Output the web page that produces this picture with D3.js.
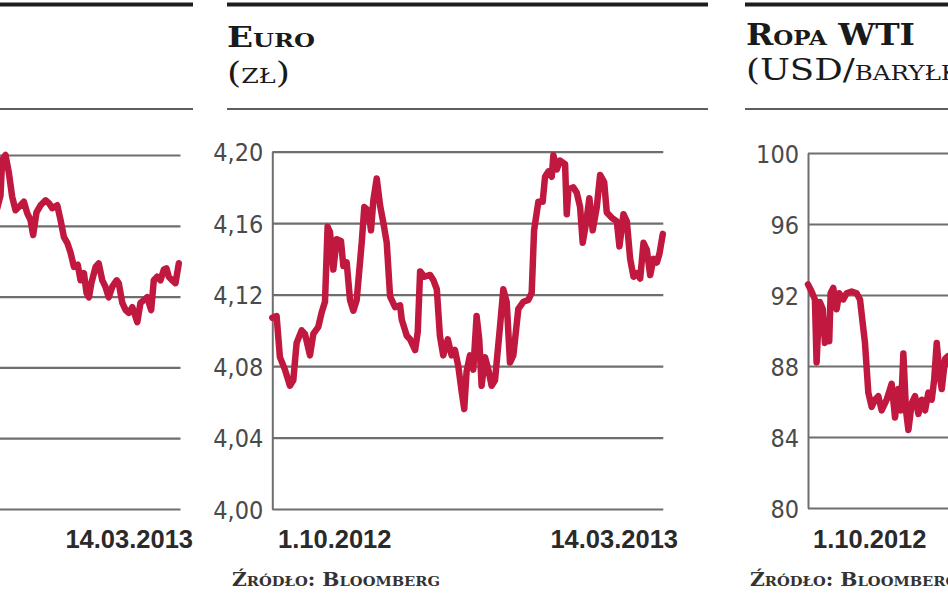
<!DOCTYPE html>
<html>
<head>
<meta charset="utf-8">
<script src="https://cdn.jsdelivr.net/npm/d3@7"></script>
<style>
  html, body { margin: 0; padding: 0; background: #fff; }
  svg { display: block; }
</style>
</head>
<body>
<svg id="chart" width="948" height="593"></svg>
<script>
// ---------------- DATA ----------------
// x = days since 1.10.2012 (period 1.10.2012 – 14.03.2013 = 164 days)
const periodDays = 164;
const dateLabels = ["1.10.2012", "14.03.2013"];

// Left (cropped) panel – only its right part is visible
const leftTicks = [2200, 2300, 2400, 2500, 2600, 2700];
const leftDays = [86, 88.5, 89.2, 90.6, 92.0, 93.4, 94.8, 96.9, 98.3, 99.7, 101.1, 102.2, 103.6, 105.3, 107.4, 108.8, 110.2, 112.3, 113.7, 115.1, 116.5, 117.9, 119.3, 120.9, 122.1, 123.5, 124.6, 125.6, 126.6, 128.4, 129.7, 131.2, 132.5, 133.9, 135.4, 137.2, 138.1, 139.6, 141.0, 142.3, 143.8, 145.2, 145.9, 147.2, 148.6, 150.0, 151.7, 152.8, 154.2, 155.6, 157.0, 158.1, 159.1, 160.5, 161.9, 163.3];
const leftValues = [2610, 2643, 2693, 2700, 2675, 2641, 2622, 2629, 2634, 2618, 2608, 2587, 2619, 2629, 2636, 2632, 2625, 2629, 2608, 2584, 2576, 2562, 2542, 2545, 2523, 2533, 2505, 2499, 2519, 2542, 2547, 2523, 2514, 2499, 2514, 2523, 2519, 2491, 2481, 2477, 2485, 2471, 2464, 2491, 2495, 2499, 2481, 2523, 2528, 2523, 2538, 2540, 2528, 2523, 2519, 2547];

// Euro (zł)
const euroTicks = [4.00, 4.04, 4.08, 4.12, 4.16, 4.20];
const euroDays = [0, 1.8, 3.2, 5.3, 7.4, 8.8, 10.2, 12.3, 13.7, 15.8, 17.2, 19.3, 20.7, 22.1, 23.2, 24.2, 25.6, 27.0, 28.8, 29.8, 31.2, 32.6, 34.0, 35.4, 37.5, 38.6, 40.3, 41.4, 42.4, 43.8, 45.2, 46.6, 48.0, 49.4, 51.5, 53.6, 54.3, 56.4, 57.8, 59.9, 61.0, 62.0, 63.8, 66.2, 67.6, 69.0, 70.3, 71.7, 73.6, 75.2, 76.6, 78.0, 79.4, 80.5,
  81.5, 82.9, 84.3, 85.7, 86.8, 87.8, 89.2, 90.6, 92.0, 93.4, 95.5, 96.9, 98.3, 99.7, 101.1, 103.2, 105.3, 107.4, 108.8, 109.8, 111.6, 113.4, 114.4, 115.8, 117.2, 117.9, 119.3, 120.7, 122.8, 123.5, 124.2, 126.3, 127.7, 129.1, 130.2, 131.6, 133.0, 134.4, 136.1, 137.5, 139.2, 140.3, 142.4, 144.5, 145.6, 147.3, 148.7, 150.1, 151.5, 152.9, 154.3, 155.7, 157.1, 158.5, 159.9, 161.3, 162.4, 163.8];
const euroValues = [4.107, 4.108, 4.085, 4.078, 4.069, 4.072, 4.093, 4.100, 4.098, 4.086, 4.098, 4.102, 4.110, 4.116, 4.158, 4.155, 4.134, 4.151, 4.150, 4.136, 4.138, 4.117, 4.111, 4.117, 4.149, 4.169, 4.167, 4.156, 4.173, 4.185, 4.170, 4.160, 4.149, 4.119, 4.113, 4.114, 4.106, 4.097, 4.095, 4.089, 4.099, 4.133, 4.130, 4.131, 4.128, 4.123, 4.097, 4.086, 4.095, 4.086, 4.089, 4.080, 4.066, 4.056,
  4.077, 4.086, 4.078, 4.108, 4.095, 4.069, 4.085, 4.078, 4.069, 4.072, 4.102, 4.123, 4.116, 4.082, 4.086, 4.112, 4.116, 4.117, 4.121, 4.156, 4.172, 4.172, 4.186, 4.189, 4.186, 4.198, 4.190, 4.195, 4.193, 4.165, 4.179, 4.180, 4.177, 4.169, 4.149, 4.160, 4.174, 4.156, 4.169, 4.187, 4.183, 4.166, 4.163, 4.161, 4.147, 4.165, 4.161, 4.140, 4.130, 4.132, 4.129, 4.149, 4.145, 4.131, 4.140, 4.138, 4.143, 4.154];

// Ropa WTI (USD/baryłkę)
const wtiTicks = [80, 84, 88, 92, 96, 100];
const wtiDays = [0, 1.5, 2.9, 3.6, 4.3, 5.0, 6.2, 7.1, 8.1, 8.9, 9.5, 10.6, 12.0, 13.1, 14.8, 16.2, 18.3, 20.4, 21.8, 23.9, 25.3, 26.7, 28.1, 29.5, 30.9, 33.0, 35.1, 36.5, 37.9, 39.0, 40.0, 41.1, 42.1, 43.5, 44.9, 46.3, 47.7, 49.1, 50.5, 51.9, 52.9, 54.0, 55.1, 56.1, 57.5, 58.7, 60.0];
const wtiValues = [92.6, 92.2, 91.75, 88.2, 90.2, 91.6, 91.2, 89.3, 90.4, 89.4, 92.1, 92.4, 91.2, 92.1, 91.75, 92.1, 92.2, 92.1, 91.75, 89.3, 86.5, 85.7, 86.1, 86.3, 85.5, 86.1, 87.0, 85.1, 86.7, 85.5, 88.7, 85.5, 84.4, 85.9, 86.3, 85.3, 86.1, 85.5, 86.5, 86.1, 87.2, 89.3, 87.6, 86.7, 88.4, 88.55, 88.0];

// ---------------- LAYOUT ----------------
const svg = d3.select("#chart");
const RED = "#c0183f";
const GRID = "#6e6e6e";
const plotW = 391;

const panels = [
  { axisX: -210.5, top: 155, bottom: 509, ruleX0: -300, ruleX1: 193, ticks: leftTicks, fmt: d3.format("d"), showTickLabels: false,
    days: leftDays, values: leftValues, labelStart: null, labelEnd: 193, source: null, title: null },
  { axisX: 272.3, top: 151.7, bottom: 509, ruleX0: 227, ruleX1: 708, ticks: euroTicks, showTickLabels: true,
    fmt: v => d3.format(".2f")(v).replace(".", ","),
    days: euroDays, values: euroValues, labelStart: 278, labelEnd: 678, source: 232,
    title: { x: 227, t1: "Euro", w1: 88, s1: 27, b1: 47, t2: "(zł)", w2: 63, s2: 29, b2: 83 } },
  { axisX: 808, top: 153, bottom: 508, ruleX0: 745, ruleX1: 960, ticks: wtiTicks, fmt: d3.format("d"), showTickLabels: true,
    days: wtiDays, values: wtiValues, labelStart: 813, labelEnd: null, source: 750,
    title: { x: 746, t1: "Ropa WTI", w1: 169, s1: 30, b1: 45, t2: "(USD/baryłkę)", w2: 245, s2: 29, b2: 80 } }
];

panels.forEach(p => {
  const g = svg.append("g");
  const x = d3.scaleLinear().domain([0, periodDays]).range([p.axisX, p.axisX + plotW]);
  const y = d3.scaleLinear().domain([d3.min(p.ticks), d3.max(p.ticks)]).range([p.bottom, p.top]);

  // top thick rule and thin separator
  g.append("line").attr("x1", p.ruleX0).attr("x2", p.ruleX1).attr("y1", 4.5).attr("y2", 4.5)
    .attr("stroke", "#1e1e1e").attr("stroke-width", 4);
  g.append("line").attr("x1", p.ruleX0).attr("x2", p.ruleX1).attr("y1", 109).attr("y2", 109)
    .attr("stroke", "#5e5e5e").attr("stroke-width", 2);

  // titles
  if (p.title) {
    const t = p.title;
    g.append("text").attr("x", t.x).attr("y", t.b1)
      .attr("font-family", "DejaVu Serif").attr("font-weight", "bold")
      .attr("font-size", t.s1).style("font-variant", "small-caps")
      .attr("fill", "#1a1a1a").attr("textLength", t.w1).attr("lengthAdjust", "spacingAndGlyphs")
      .text(t.t1);
    const t2 = g.append("text").attr("x", t.x).attr("y", t.b2)
      .attr("font-family", "DejaVu Serif")
      .attr("font-size", t.s2).style("font-variant", "small-caps")
      .attr("fill", "#1a1a1a").text(t.t2);
    if (t.w2) t2.attr("textLength", t.w2).attr("lengthAdjust", "spacingAndGlyphs");
  }

  // y axis with gridlines
  const axis = d3.axisLeft(y).tickValues(p.ticks).tickFormat(p.showTickLabels ? p.fmt : "")
    .tickSize(-plotW).tickSizeOuter(0).tickPadding(9);
  const ag = g.append("g").attr("transform", `translate(${p.axisX},0)`).call(axis);
  ag.select(".domain").attr("stroke", GRID).attr("stroke-width", 2);
  ag.selectAll(".tick line").attr("stroke", GRID).attr("stroke-width", 2.2);
  ag.selectAll(".tick text").attr("font-family", "'Liberation Sans Narrow', 'DejaVu Sans Condensed', sans-serif")
    .attr("font-size", 25).attr("fill", "#4a4a4a").attr("dy", "0.36em");

  // line
  const pts = p.days.map((d, i) => [d, p.values[i]]);
  g.append("path").datum(pts)
    .attr("fill", "none").attr("stroke", RED).attr("stroke-width", 6.5)
    .attr("stroke-linejoin", "round").attr("stroke-linecap", "round")
    .attr("d", d3.line().x(d => x(d[0])).y(d => y(d[1])));

  // date labels
  const lab = (xx, anchor, txt) => g.append("text").attr("x", xx).attr("y", 548)
    .attr("text-anchor", anchor).attr("font-family", "'Liberation Sans', sans-serif")
    .attr("font-weight", "bold").attr("font-size", 25.5).attr("fill", "#2a2a2a").text(txt);
  if (p.labelStart !== null) lab(p.labelStart, "start", dateLabels[0]);
  if (p.labelEnd !== null) lab(p.labelEnd, "end", dateLabels[1]);

  // source
  if (p.source !== null) {
    g.append("text").attr("x", p.source).attr("y", 586)
      .attr("font-family", "DejaVu Serif").attr("font-weight", "bold")
      .attr("font-size", 18).style("font-variant", "small-caps").attr("fill", "#333")
      .attr("textLength", 208).attr("lengthAdjust", "spacingAndGlyphs")
      .text("Źródło: Bloomberg");
  }
});
</script>
</body>
</html>
